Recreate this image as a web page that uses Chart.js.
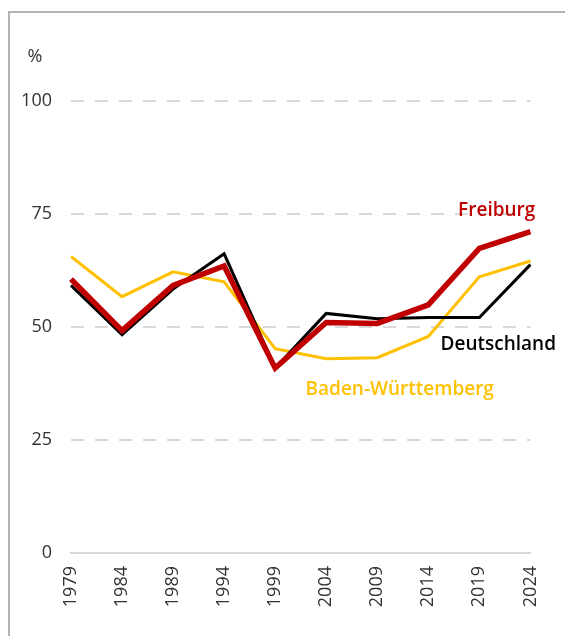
<!DOCTYPE html>
<html>
<head>
<meta charset="utf-8">
<script src="https://cdn.jsdelivr.net/npm/chart.js@4"></script>
<style>
  body { margin: 0; background: #fff; overflow: hidden; }
  #frame { position: absolute; left: 8px; top: 11px; width: 620px; height: 700px; border: 2px solid #b4b4b4; }
  #wrap { position: absolute; left: 0; top: 0; width: 565px; height: 636px; }
</style>
</head>
<body>
<div id="frame"></div>
<div id="wrap"><canvas id="myChart" width="565" height="636"></canvas></div>
<script>
// Wahlbeteiligung (%)
const years = ["1979", "1984", "1989", "1994", "1999", "2004", "2009", "2014", "2019", "2024"];
const freiburg = [60.6, 49.2, 59.2, 63.5, 40.9, 51.0, 50.8, 54.9, 67.4, 71.1];
const deutschland = [59.2, 48.3, 58.4, 66.2, 40.9, 53.0, 51.8, 52.1, 52.1, 63.8];
const badenWuerttemberg = [65.6, 56.7, 62.2, 60.0, 45.2, 43.0, 43.2, 47.9, 61.1, 64.6];
const yTicks = [0, 25, 50, 75, 100];

const FONT = "'Open Sans', 'Noto Sans', sans-serif";

// series names written straight into the plot
const lineLabels = {
  id: "lineLabels",
  afterDatasetsDraw(chart) {
    const { ctx, scales } = chart;
    const items = [
      { text: "Freiburg", color: "#c00000", x: 8.34, y: 75.8 },
      { text: "Deutschland", color: "#000000", x: 8.37, y: 46.0 },
      { text: "Baden-Württemberg", color: "#ffc000", x: 6.44, y: 36.1 },
    ];
    ctx.save();
    ctx.font = "600 19px " + FONT;
    ctx.textAlign = "center";
    ctx.textBaseline = "middle";
    items.forEach((it) => {
      ctx.fillStyle = it.color;
      ctx.fillText(it.text, scales.x.getPixelForValue(it.x), scales.y.getPixelForValue(it.y));
    });
    // unit above the y axis
    ctx.font = "18px " + FONT;
    ctx.fillStyle = "#333333";
    ctx.fillText("%", 35, 57);
    ctx.restore();
  },
};

const ctx = document.getElementById("myChart").getContext("2d");

const myChart = new Chart(ctx, {
  type: "line",
  data: {
    labels: years,
    datasets: [
      { label: "Freiburg", data: freiburg, borderColor: "#c00000", borderWidth: 5.5 },
      { label: "Deutschland", data: deutschland, borderColor: "#000000", borderWidth: 3 },
      { label: "Baden-Württemberg", data: badenWuerttemberg, borderColor: "#ffc000", borderWidth: 3 },
    ],
  },
  options: {
    responsive: false,
    animation: false,
    layout: { padding: { top: 101, left: 0, right: 33, bottom: 0 } },
    elements: {
      point: { radius: 0 },
      line: { tension: 0, borderJoinStyle: "miter", borderCapStyle: "butt" },
    },
    plugins: {
      legend: { display: false },
      tooltip: { enabled: false },
    },
    scales: {
      x: {
        grid: { display: false, drawTicks: false },
        border: { display: true, color: "#d9d9d9", width: 2 },
        ticks: {
          minRotation: 90,
          maxRotation: 90,
          padding: 13,
          color: "#333333",
          font: { family: FONT, size: 18 },
        },
        afterFit(scale) { scale.height = 83; },
      },
      y: {
        min: 0,
        max: 100,
        afterBuildTicks(scale) { scale.ticks = yTicks.map((v) => ({ value: v })); },
        grid: {
          drawTicks: false,
          lineWidth: 2,
          color: (c) => (c.tick && c.tick.value === 0 ? "rgba(0,0,0,0)" : "#d9d9d9"),
        },
        border: { display: false, dash: [13, 11] },
        ticks: {
          padding: 19,
          color: "#333333",
          font: { family: FONT, size: 18 },
        },
        afterFit(scale) { scale.width = 71; },
      },
    },
  },
  plugins: [lineLabels],
});
</script>
</body>
</html>
